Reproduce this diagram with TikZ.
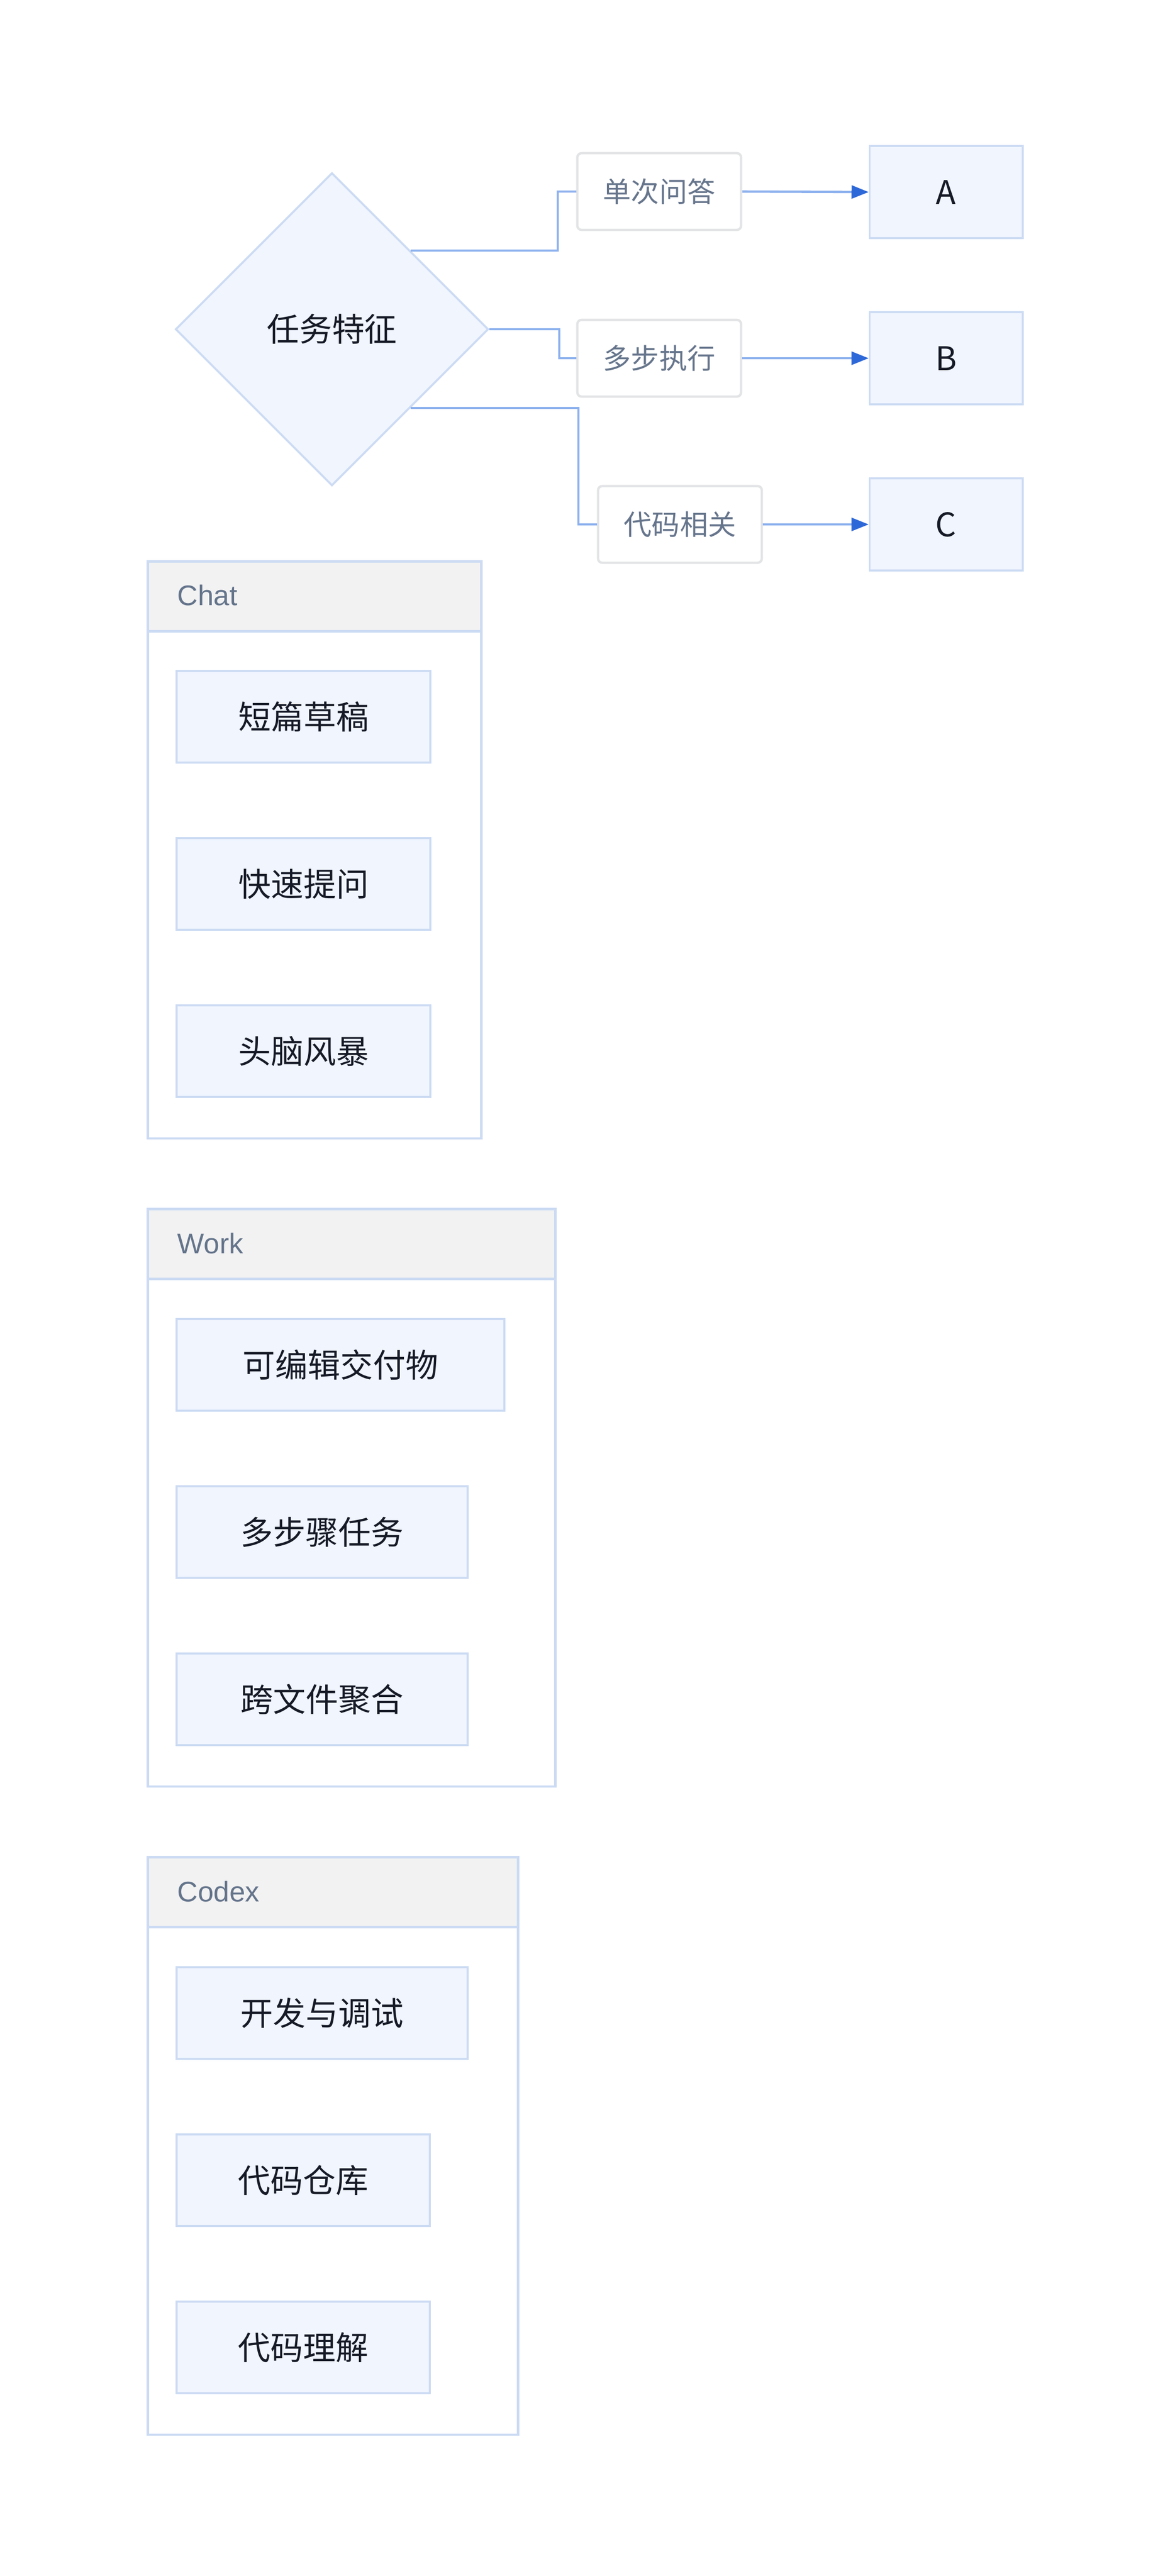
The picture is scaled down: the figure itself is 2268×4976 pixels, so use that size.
\documentclass[tikz,border=0pt]{standalone}
\usepackage{fontspec}
\setmainfont{Noto Sans CJK SC}
\newfontfamily\titlefont{Liberation Sans}
\usetikzlibrary{shapes.geometric,arrows.meta,calc}
\definecolor{nodefill}{HTML}{F0F5FE}
\definecolor{nodeborder}{HTML}{CCDBF3}
\definecolor{edgecol}{HTML}{8DB1EE}
\definecolor{tipcol}{HTML}{2D68D8}
\definecolor{lblborder}{HTML}{E3E4E6}
\definecolor{lbltext}{HTML}{66758C}
\definecolor{titletext}{HTML}{64748B}
\definecolor{headfill}{HTML}{F2F2F2}
\definecolor{maintext}{HTML}{151A26}
\begin{document}
\begin{tikzpicture}[x=0.01cm,y=-0.01cm,
  mainfont/.style={font=\fontsize{17.9}{21}\selectfont},
  box/.style={draw=nodeborder,fill=nodefill,line width=1.1pt,minimum height=1.77cm,inner sep=0pt,text=maintext,mainfont},
  lbl/.style={draw=lblborder,fill=white,line width=1.3pt,rounded corners=0.08cm,minimum width=3.16cm,minimum height=1.48cm,inner sep=0pt,text=lbltext,font=\fontsize{15.4}{18}\selectfont},
  target/.style={box,minimum width=2.95cm,minimum height=1.78cm},
  dec/.style={diamond,draw=nodeborder,fill=nodefill,line width=1.1pt,minimum width=6.04cm,minimum height=6.04cm,inner sep=0pt,text=maintext,mainfont},
  frame/.style={draw=nodeborder,fill=white,line width=1.3pt,inner sep=0pt,anchor=north west},
  header/.style={draw=nodeborder,fill=headfill,line width=1.3pt,inner sep=0pt,anchor=north west,minimum height=1.35cm},
  ttl/.style={anchor=west,inner sep=0pt,text=titletext,font=\titlefont\fontsize{15.6}{18}\selectfont},
  conn/.style={draw=edgecol,line width=1.3pt},
  arr/.style={conn,-{Triangle[length=0.33cm,width=0.25cm,color=tipcol]}},
]
\useasboundingbox (0,0) rectangle (2268,4976);

% decision part
\node[dec] (dia) at (641,636) {任务特征};
\node[lbl] (l1) at (1273,370) {单次问答};
\node[lbl] (l2) at (1273,692) {多步执行};
\node[lbl] (l3) at (1313,1013) {代码相关};
\node[target] (ta) at (1827,371) {A};
\node[target] (tb) at (1827,692) {B};
\node[target] (tc) at (1827,1013) {C};

\coordinate (d1) at ($(dia.north)!0.5!(dia.east)$);
\coordinate (d3) at ($(dia.south)!0.5!(dia.east)$);
\coordinate (k1) at (1077,0);
\coordinate (k2) at (1080,0);
\coordinate (k3) at (1117,0);

\draw[conn] (d1) -- (d1 -| k1) |- (l1.west);
\draw[conn] (dia.east) -- (dia.east -| k2) |- (l2.west);
\draw[conn] (d3) -- (d3 -| k3) |- (l3.west);
\draw[arr] (l1.east) -- (ta.west);
\draw[arr] (l2.east) -- (tb.west);
\draw[arr] (l3.east) -- (tc.west);

% Chat group
\node[frame,minimum width=6.44cm,minimum height=11.14cm] (chatf) at (283,1082) {};
\node[header,minimum width=6.44cm] (chath) at (283,1082) {};
\node[ttl] (chatt) at (342,1150) {Chat};
\node[box,anchor=north west,minimum width=4.90cm] (c1) at (339,1294) {短篇草稿};
\node[box,anchor=north west,minimum width=4.90cm] (c2) at (339,1617) {快速提问};
\node[box,anchor=north west,minimum width=4.90cm] (c3) at (339,1940) {头脑风暴};

% Work group
\node[frame,minimum width=7.87cm,minimum height=11.15cm] (workf) at (283,2333) {};
\node[header,minimum width=7.87cm] (workh) at (283,2333) {};
\node[ttl] (workt) at (342,2402) {Work};
\node[box,anchor=north west,minimum width=6.33cm] (w1) at (339,2546) {可编辑交付物};
\node[box,anchor=north west,minimum width=5.62cm] (w2) at (339,2869) {多步骤任务};
\node[box,anchor=north west,minimum width=5.62cm] (w3) at (339,3192) {跨文件聚合};

% Codex group
\node[frame,minimum width=7.15cm,minimum height=11.15cm] (codexf) at (283,3585) {};
\node[header,minimum width=7.15cm] (codexh) at (283,3585) {};
\node[ttl] (codext) at (342,3654) {Codex};
\node[box,anchor=north west,minimum width=5.62cm] (x1) at (339,3798) {开发与调试};
\node[box,anchor=north west,minimum width=4.89cm] (x2) at (339,4121) {代码仓库};
\node[box,anchor=north west,minimum width=4.89cm] (x3) at (339,4444) {代码理解};
\end{tikzpicture}
\end{document}
